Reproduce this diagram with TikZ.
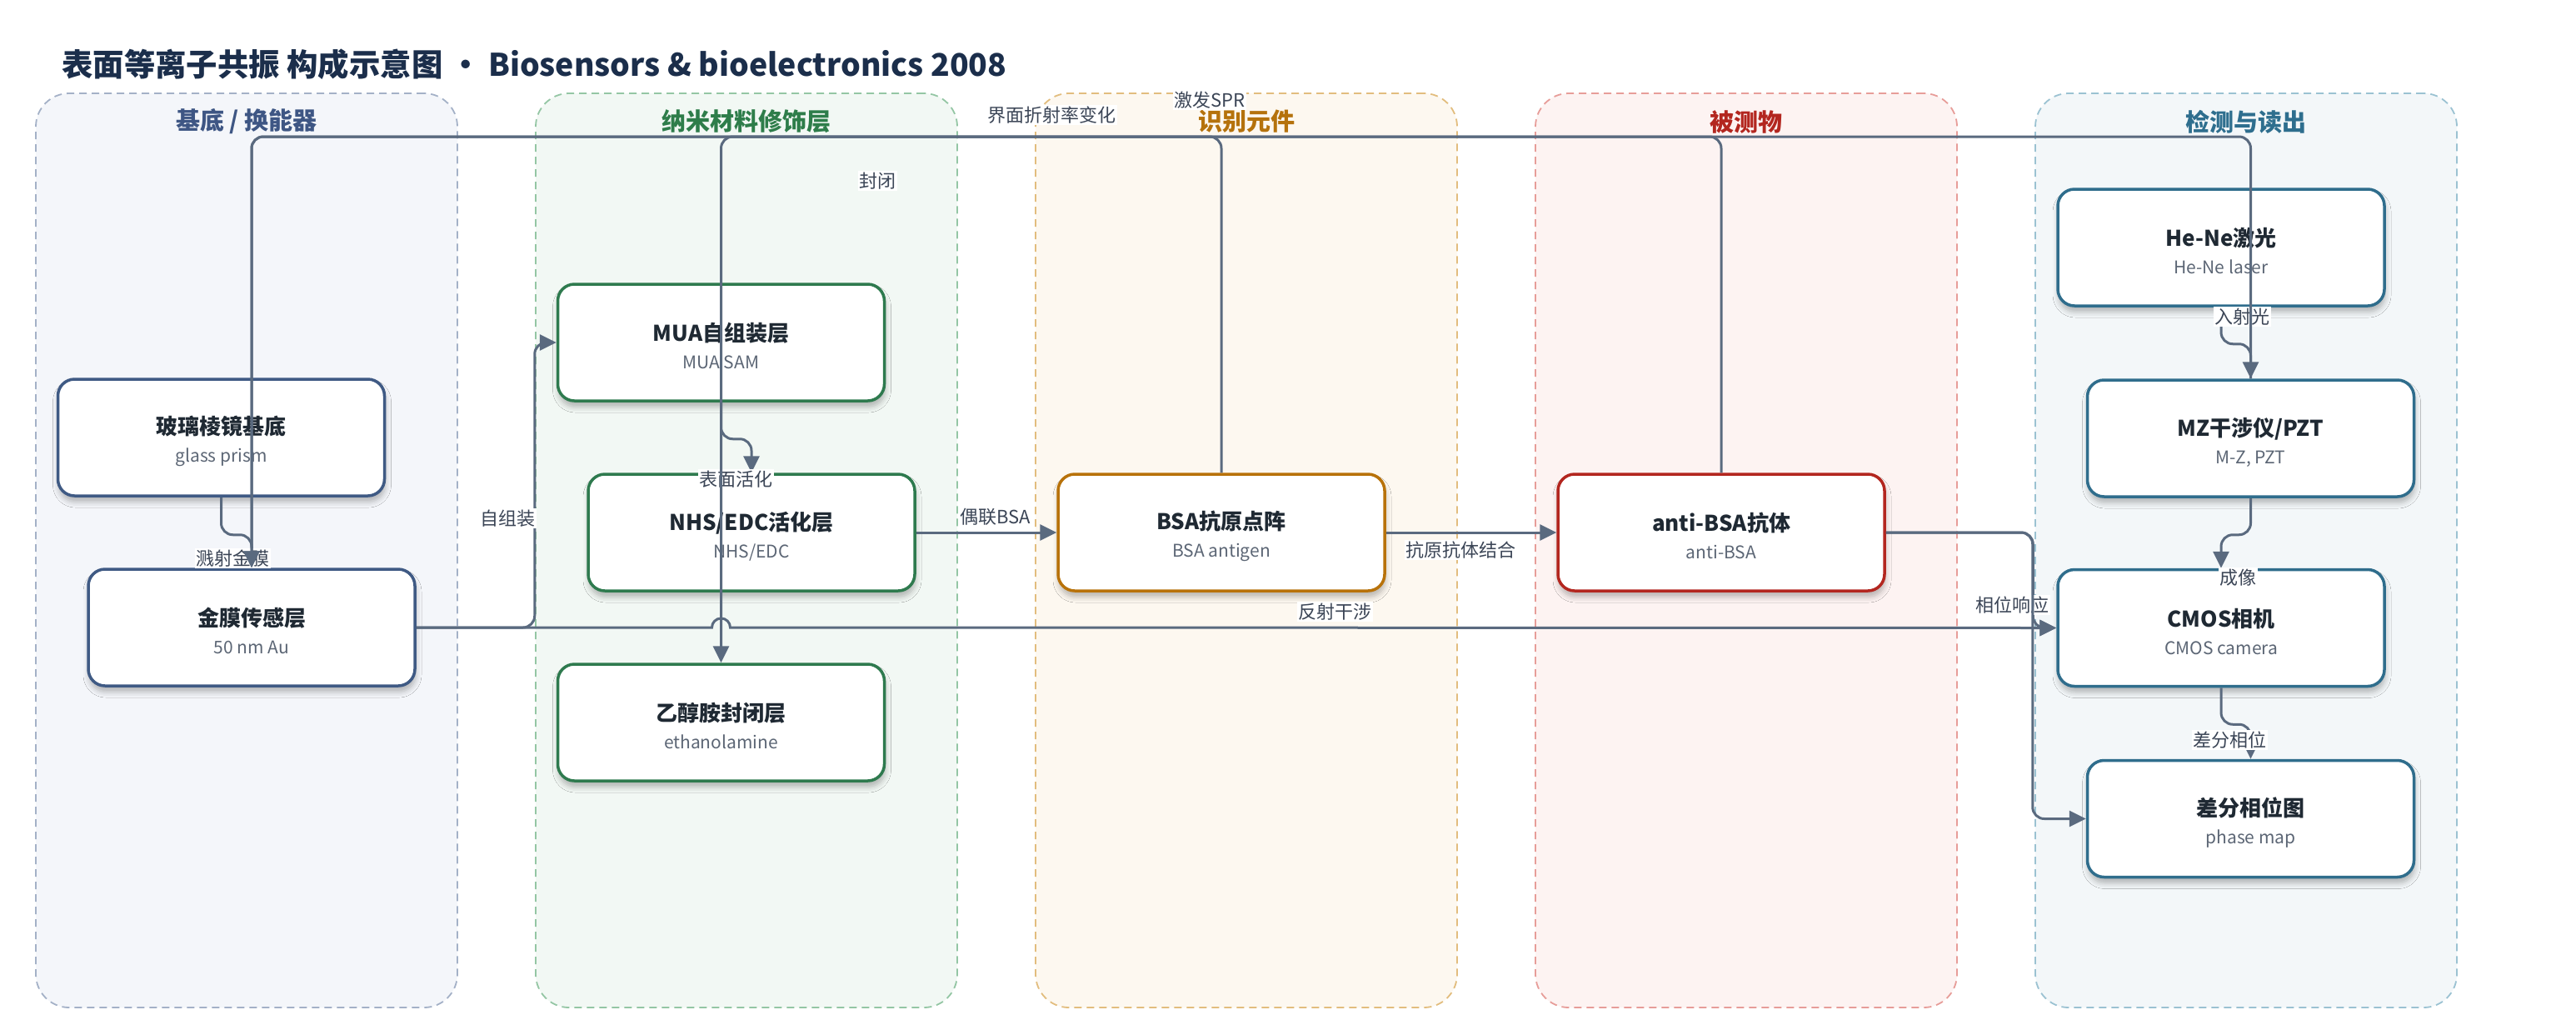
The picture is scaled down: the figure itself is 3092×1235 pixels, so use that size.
\documentclass[tikz,border=0pt]{standalone}
\usepackage{fontspec}
\setmainfont{Noto Sans CJK SC}
\usetikzlibrary{arrows.meta,calc,shadows.blur}
\definecolor{titlec}{HTML}{1B2E4B}
\definecolor{edgec}{HTML}{5A6A7F}
\definecolor{labc}{HTML}{3B4556}
\definecolor{subc}{HTML}{5C6675}
\definecolor{txtc}{HTML}{1F2933}
\definecolor{lAf}{HTML}{F4F6FA}\definecolor{lAd}{HTML}{A4B1C7}\definecolor{lAh}{HTML}{3E5684}\definecolor{lAb}{HTML}{3F5A84}
\definecolor{lBf}{HTML}{F2F8F4}\definecolor{lBd}{HTML}{94C6A4}\definecolor{lBh}{HTML}{2E7D4A}\definecolor{lBb}{HTML}{2E7A4E}
\definecolor{lCf}{HTML}{FDF8F0}\definecolor{lCd}{HTML}{E2BD7E}\definecolor{lCh}{HTML}{B5720C}\definecolor{lCb}{HTML}{B8720A}
\definecolor{lDf}{HTML}{FDF3F2}\definecolor{lDd}{HTML}{E79D99}\definecolor{lDh}{HTML}{B3261F}\definecolor{lDb}{HTML}{B3261F}
\definecolor{lEf}{HTML}{F3F7F9}\definecolor{lEd}{HTML}{9BC2D2}\definecolor{lEh}{HTML}{2E6E8E}\definecolor{lEb}{HTML}{2F6D8C}
\newcommand\boxtxt[2]{{\fontsize{26}{33}\selectfont\bfseries\color{txtc}\rule{0pt}{31pt}#1}\\{\color{subc}#2}}
\tikzset{
  lanebox/.style={rectangle, rounded corners=40pt, dashed, dash pattern=on 9pt off 6pt, line width=1.8pt, minimum width=506pt, minimum height=1097pt, inner sep=0pt},
  hdr/.style={font=\fontsize{29}{33}\selectfont\bfseries},
  card/.style={rectangle, rounded corners=20pt, line width=3.5pt, fill=white, minimum width=392pt, minimum height=140pt, inner sep=0pt, align=center, font=\fontsize{21}{33}\selectfont,
    blur shadow={shadow xshift=1pt, shadow yshift=-7pt, shadow blur radius=7pt, shadow opacity=28}},
  edge/.style={draw=edgec, line width=3pt, rounded corners=14pt, -{Triangle[length=20pt,width=19pt]}},
  elabel/.style={fill=white, inner sep=1.5pt, text=labc, font=\fontsize{22}{26}\selectfont}
}
\begin{document}
\begin{tikzpicture}[x=1pt,y=-1pt]
\useasboundingbox (0,0) rectangle (3092,1235);
\fill[white] (0,0) rectangle (3092,1235);
% title
\node[anchor=west, font=\fontsize{37.4}{44}\selectfont\bfseries, text=titlec, inner sep=0pt] (title) at (74,77) {表面等离子共振 构成示意图 • Biosensors \& bioelectronics 2008};
% lanes
\node[lanebox, fill=lAf, draw=lAd] (laneA) at (296,660.5) {};
\node[lanebox, fill=lBf, draw=lBd] (laneB) at (896,660.5) {};
\node[lanebox, fill=lCf, draw=lCd] (laneC) at (1496,660.5) {};
\node[lanebox, fill=lDf, draw=lDd] (laneD) at (2096,660.5) {};
\node[lanebox, fill=lEf, draw=lEd] (laneE) at (2696,660.5) {};
\node[hdr, text=lAh] (hA) at (296,146) {基底 / 换能器};
\node[hdr, text=lBh] (hB) at (896,146) {纳米材料修饰层};
\node[hdr, text=lCh] (hC) at (1496,146) {识别元件};
\node[hdr, text=lDh] (hD) at (2096,146) {被测物};
\node[hdr, text=lEh] (hE) at (2696,146) {检测与读出};
% boxes
\node[card, draw=lAb] (prism) at (265.5,525) {\boxtxt{玻璃棱镜基底}{glass prism}};
\node[card, draw=lAb] (gold) at (302,753) {\boxtxt{金膜传感层}{50 nm Au}};
\node[card, draw=lBb] (mua) at (865.5,411) {\boxtxt{MUA自组装层}{MUA SAM}};
\node[card, draw=lBb] (nhs) at (902,639) {\boxtxt{NHS/EDC活化层}{NHS/EDC}};
\node[card, draw=lBb] (eth) at (865.5,867) {\boxtxt{乙醇胺封闭层}{ethanolamine}};
\node[card, draw=lCb] (bsa) at (1466,639) {\boxtxt{BSA抗原点阵}{BSA antigen}};
\node[card, draw=lDb] (anti) at (2066,639) {\boxtxt{anti-BSA抗体}{anti-BSA}};
\node[card, draw=lEb] (hene) at (2666,297) {\boxtxt{He-Ne激光}{He-Ne laser}};
\node[card, draw=lEb] (mz) at (2701.5,526) {\boxtxt{MZ干涉仪/PZT}{M-Z, PZT}};
\node[card, draw=lEb] (cmos) at (2666,753.5) {\boxtxt{CMOS相机}{CMOS camera}};
\node[card, draw=lEb] (phase) at (2701.5,982.5) {\boxtxt{差分相位图}{phase map}};
% edges with their labels
\coordinate (topy) at (0,164);
\draw[edge] (prism.south) -- ++(0,45) -| (gold.north);
\node[elabel] (t1) at (279,670) {溅射金膜};
\draw[edge] (gold.east) -| ($(mua.west)+(-26,0)$) -- (mua.west);
\node[elabel] (t2) at (609,622) {自组装};
\draw[edge] (mua.south) -- ++(0,44) -| (nhs.north);
\node[elabel] (t3) at (883,575) {表面活化};
\draw[edge, sharp corners] (gold.east) -- ($(eth.north |- gold.east)+(-11,0)$) arc[start angle=180, end angle=0, radius=11pt] -- (cmos.west);
\node[elabel] (t9) at (1602,734) {反射干涉};
\draw[edge] (nhs.east) -- (bsa.west);
\node[elabel] (t7) at (1195,620) {偶联BSA};
\draw[edge] (bsa.east) -- (anti.west);
\node[elabel] (t8) at (1753,660) {抗原抗体结合};
\draw[edge] (anti.east) -| ($(cmos.west)+(-28,0)$) -- (cmos.west);
\node[elabel] (t10) at (2415,726) {相位响应};
\draw[edge] (anti.east) -| ($(phase.west)+(-64,0)$) -- (phase.west);
\draw[edge] (hene.south) -- ++(0,44) -| (mz.north);
\node[elabel] (t11) at (2691,380) {入射光};
\draw[edge] (mz.south) -- ++(0,44) -| (cmos.north);
\node[elabel] (t12) at (2686,693) {成像};
\draw[edge] (cmos.south) -- ++(0,44) -| (phase.north);
\node[elabel] (t13) at (2676,888) {差分相位};
\draw[edge] (bsa.north) -- (bsa.north |- topy) -- (eth.north |- topy) -- (eth.north);
\node[elabel] (t4) at (1053,217) {封闭};
\draw[edge] (anti.north) -- (anti.north |- topy) -- (gold.north |- topy) -- (gold.north);
\node[elabel] (t5) at (1262,138) {界面折射率变化};
\draw[edge] (mz.north) -- (mz.north |- topy) -- (gold.north |- topy) -- (gold.north);
\node[elabel] (t6) at (1452,120) {激发SPR};
\end{tikzpicture}
\end{document}
